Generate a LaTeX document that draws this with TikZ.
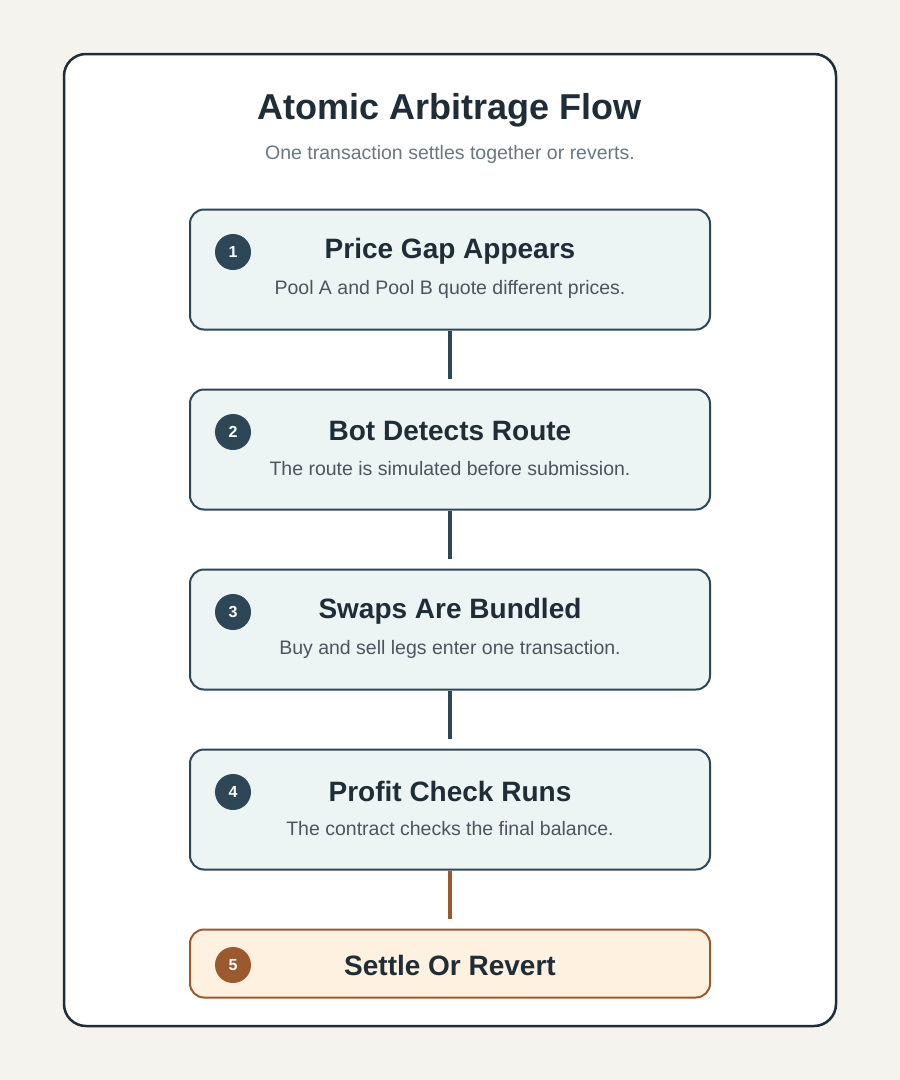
\documentclass[tikz,border=0pt]{standalone}
\usepackage{fontspec}
\setmainfont{Liberation Sans}
\usetikzlibrary{positioning}

\definecolor{pagebg}{HTML}{F5F3EE}
\definecolor{ink}{HTML}{1F2D38}
\definecolor{slate}{HTML}{2E4756}
\definecolor{stepfill}{HTML}{EDF5F4}
\definecolor{muted}{HTML}{6B7780}
\definecolor{desc}{HTML}{4A5560}
\definecolor{rust}{HTML}{9A5A2E}
\definecolor{cream}{HTML}{FFF1DF}

\begin{document}
\begin{tikzpicture}[x=1pt, y=-1pt,
    step box/.style={rectangle, rounded corners=14pt, draw=slate, line width=2pt, fill=stepfill, minimum width=520pt, minimum height=120pt, inner sep=0pt},
    final box/.style={step box, draw=rust, fill=cream, minimum height=68pt},
    badge/.style={circle, fill=slate, text=white, minimum size=36pt, inner sep=0pt, font=\fontsize{16}{16}\selectfont\bfseries},
    step title/.style={text=ink, font=\fontsize{28}{32}\selectfont\bfseries},
    step text/.style={text=desc, font=\fontsize{19.5}{23}\selectfont},
    link/.style={draw=slate, line width=4pt, shorten >=10pt}
]
\useasboundingbox[fill=pagebg] (0,0) rectangle (900,1080);
\node[draw=ink, line width=2.5pt, fill=white, rounded corners=22pt, minimum width=772pt, minimum height=972pt] (panel) at (450,540) {};

\node[text=ink, font=\fontsize{36}{40}\selectfont\bfseries] (title) at (450,110) {Atomic Arbitrage Flow};
\node[text=muted, font=\fontsize{19.5}{23}\selectfont] (subtitle) at (450,154) {One transaction settles together or reverts.};

% steps
\node[step box] (gap) at (450,269.5) {};
\node[step box] (detect) at (450,449.5) {};
\node[step box] (bundle) at (450,629.5) {};
\node[step box] (check) at (450,809.5) {};
\node[final box] (settle) at (450,963.5) {};

\node[badge] (n1) at (233,252) {1};
\node[badge] (n2) at (233,432) {2};
\node[badge] (n3) at (233,612) {3};
\node[badge] (n4) at (233,792) {4};
\node[badge, fill=rust] (n5) at (233,965) {5};

\node[step title] (t1) at (450,251) {Price Gap Appears};
\node[step text] (d1) at (450,289) {Pool A and Pool B quote different prices.};
\node[step title] (t2) at (450,431) {Bot Detects Route};
\node[step text] (d2) at (450,469) {The route is simulated before submission.};
\node[step title] (t3) at (450,611) {Swaps Are Bundled};
\node[step text] (d3) at (450,649) {Buy and sell legs enter one transaction.};
\node[step title] (t4) at (450,791) {Profit Check Runs};
\node[step text] (d4) at (450,829) {The contract checks the final balance.};
\node[step title] (t5) at (450,965) {Settle Or Revert};

% links
\draw[link] (gap) -- (detect);
\draw[link] (detect) -- (bundle);
\draw[link] (bundle) -- (check);
\draw[link, draw=rust] (check) -- (settle);
\end{tikzpicture}
\end{document}
